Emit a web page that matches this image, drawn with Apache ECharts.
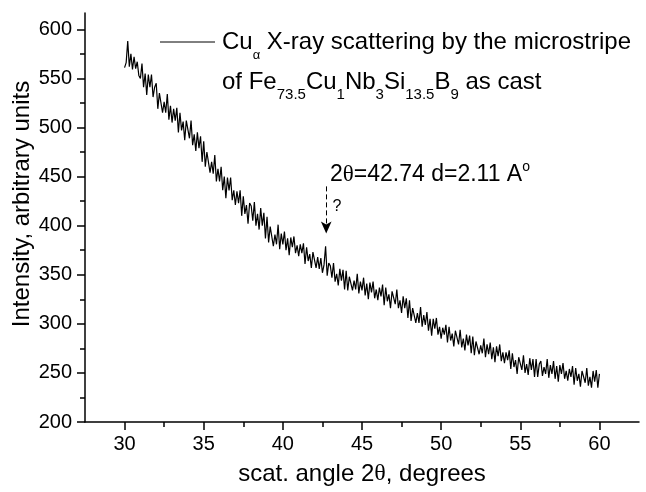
<!DOCTYPE html>
<html><head><meta charset="utf-8">
<script src="https://cdn.jsdelivr.net/npm/echarts@6/dist/echarts.min.js"></script>
<style>html,body{margin:0;padding:0;background:#fff}#c{width:646px;height:492px}</style>
</head><body><div id="c"></div>
<script>
const angleStart = 30;
const angleStep = 0.1;
const intensity = [
561,566,588,562,575,559,572,560,567,553,
550,565,541,555,533,554,541,554,531,541,
545,519,535,537,515,526,515,534,508,522,
505,519,507,520,495,515,497,506,487,507,
505,489,507,482,493,476,495,479,491,465,
486,460,475,477,454,465,453,472,445,458,
445,460,436,450,428,449,436,449,426,436,
421,435,423,436,410,430,412,421,402,423,
420,405,424,400,412,396,418,400,413,387,
409,383,399,401,379,391,381,401,376,392,
381,394,375,387,370,388,378,389,372,380,
369,381,372,382,361,378,364,371,357,373,
372,357,368,356,367,352,360,379,349,362,
359,347,362,343,351,339,356,344,355,335,
354,334,348,350,334,344,335,351,331,343,
334,347,329,341,325,342,332,343,326,335,
324,337,328,340,319,337,323,330,316,333,
332,320,335,316,324,311,328,316,326,306,
324,303,316,318,301,311,301,317,297,309,
299,312,293,305,288,305,295,306,289,297,
285,296,289,299,281,297,283,290,277,293,
291,279,294,276,285,273,289,278,288,270,
287,268,282,284,269,278,270,285,266,279,
269,281,264,276,261,277,267,279,262,271,
260,271,263,273,254,270,256,263,249,266,
264,253,268,250,259,248,265,253,264,246,
264,246,259,262,247,256,249,264,245,258,
249,262,244,257,241,258,249,260,244,252,
242,254,246,257,238,255,242,249,236,252,
251,240,255,237,246,235,252,241,253,235,
249
];
const xTicks = [30, 35, 40, 45, 50, 55, 60];
const xMinorTicks = [32.5, 37.5, 42.5, 47.5, 52.5, 57.5];
const yTicks = [200, 250, 300, 350, 400, 450, 500, 550, 600];
const yMinorTicks = [225, 275, 325, 375, 425, 475, 525, 575];
const peakAngle = 42.74;
const arrowTop = 440;
const arrowTip = 392;

const points = intensity.map((v, i) => [+(angleStart + i * angleStep).toFixed(2), v]);

const FONT = 'Liberation Sans, Arial, sans-serif';
const axisCommon = {
  splitLine: { show: false },
  axisLine: { show: true, onZero: false, lineStyle: { color: '#000', width: 1.5 } }
};

const chart = echarts.init(document.getElementById('c'), null, { renderer: 'canvas' });
chart.setOption({
  animation: false,
  backgroundColor: '#fff',
  grid: { left: 85, right: 7, top: 13, bottom: 70, containLabel: false },
  xAxis: [{
    type: 'value', min: 27.5, max: 62.5, position: 'bottom',
    ...axisCommon,
    axisTick: { show: true, customValues: xTicks, length: 8, lineStyle: { color: '#000', width: 1.5 } },
    axisLabel: { customValues: xTicks, color: '#000', fontSize: 20, fontFamily: FONT, margin: 12 },
    name: '{n|scat. angle 2}{t|θ}{n|, degrees}',
    nameLocation: 'middle', nameGap: 40,
    nameTextStyle: { rich: {
      n: { fontSize: 24, fontFamily: FONT, color: '#000' },
      t: { fontSize: 24, fontFamily: 'Liberation Serif, serif', color: '#000' }
    } }
  }, {
    type: 'value', min: 27.5, max: 62.5, position: 'bottom',
    splitLine: { show: false }, axisLine: { show: false },
    axisTick: { show: true, customValues: xMinorTicks, length: 5, lineStyle: { color: '#000', width: 1.5 } },
    axisLabel: { show: false }
  }],
  yAxis: [{
    type: 'value', min: 200, max: 616.6, position: 'left',
    ...axisCommon,
    axisTick: { show: true, customValues: yTicks, length: 8, lineStyle: { color: '#000', width: 1.5 } },
    axisLabel: { customValues: yTicks, color: '#000', fontSize: 20, fontFamily: FONT, margin: 13 }
  }, {
    type: 'value', min: 200, max: 616.6, position: 'left',
    splitLine: { show: false }, axisLine: { show: false },
    axisTick: { show: true, customValues: yMinorTicks, length: 5, lineStyle: { color: '#000', width: 1.5 } },
    axisLabel: { show: false }
  }],
  series: [{
    type: 'line', xAxisIndex: 0, yAxisIndex: 0,
    data: points, showSymbol: false, symbol: 'none',
    lineStyle: { color: '#000', width: 1.2 },
    markLine: {
      silent: true,
      symbol: ['none', 'arrow'], symbolSize: [8, 12],
      lineStyle: { color: '#000', width: 1, type: [5, 3] },
      label: { show: false },
      data: [[{ coord: [peakAngle, arrowTop] }, { coord: [peakAngle, arrowTip] }]]
    }
  }],
  graphic: [
    { type: 'text', x: 22, y: 204, rotation: Math.PI / 2,
      style: { text: 'Intensity, arbitrary units', font: '24px ' + FONT, fill: '#000', align: 'center', verticalAlign: 'middle' } },
    { type: 'line', shape: { x1: 160, y1: 42, x2: 215, y2: 42 }, style: { stroke: '#000', lineWidth: 1 } },
    { type: 'text', x: 222, y: 22,
      style: {
        text: '{n|Cu}{s|α}{n| X-ray scattering by the microstripe}\n{n|of Fe}{b|73.5}{n|Cu}{b|1}{n|Nb}{b|3}{n|Si}{b|13.5}{n|B}{b|9}{n| as cast}',
        verticalAlign: 'top', align: 'left',
        rich: {
          n: { fontSize: 24, fontFamily: FONT, color: '#000', lineHeight: 40 },
          s: { fontSize: 13, fontFamily: FONT, color: '#000', lineHeight: 14, verticalAlign: 'bottom' },
          b: { fontSize: 15, fontFamily: FONT, color: '#000', lineHeight: 14, verticalAlign: 'bottom' }
        }
      } },
    { type: 'text', x: 330, y: 160,
      style: {
        text: '{n|2}{t|θ}{n|=42.74 d=2.11 A}{o|o}',
        verticalAlign: 'top', align: 'left',
        rich: {
          n: { fontSize: 23, fontFamily: FONT, color: '#000', lineHeight: 30 },
          t: { fontSize: 23, fontFamily: 'Liberation Serif, serif', color: '#000', lineHeight: 30 },
          o: { fontSize: 14, fontFamily: FONT, color: '#000', lineHeight: 6, verticalAlign: 'top' }
        }
      } },
    { type: 'text', x: 337, y: 207,
      style: { text: '?', font: '16px ' + FONT, fill: '#000', align: 'center', verticalAlign: 'middle' } }
  ]
});
</script>
</body></html>
